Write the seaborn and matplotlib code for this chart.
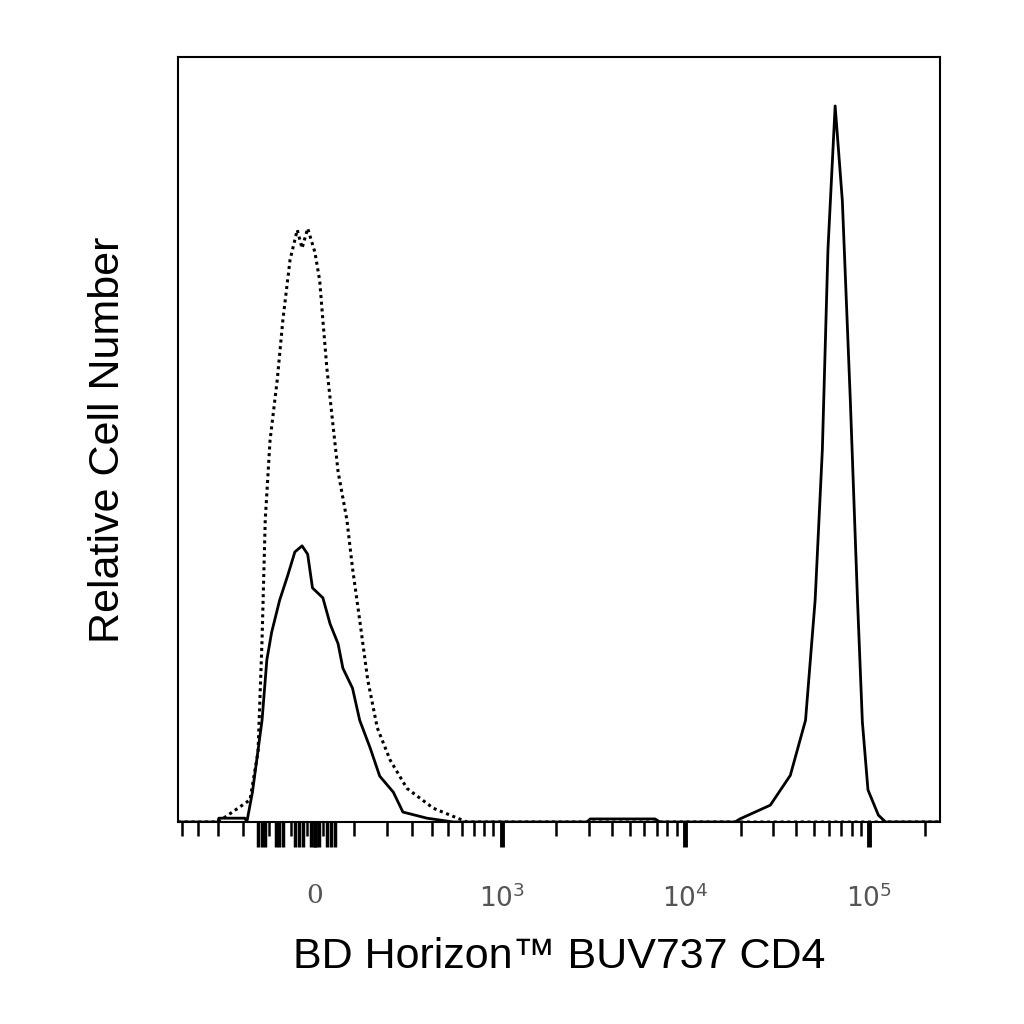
import numpy as np
import matplotlib
matplotlib.use("Agg")
import matplotlib.pyplot as plt
import seaborn as sns
import pandas as pd

sns.set_theme(style="white")
plt.rcParams['font.family'] = ['Liberation Sans', 'DejaVu Sans']

W = 196.0  # biexponential-like width (display channel = asinh(value/W))

# Display-channel positions and relative counts
dotted_u = [-1.71, -1.21, -0.81, -0.71, -0.66, -0.62, -0.56, -0.47, -0.40, -0.31, -0.22, -0.16, -0.09, 0.0,
            0.06, 0.10, 0.15, 0.22, 0.29, 0.40, 0.47, 0.56, 0.66, 0.78, 0.94, 1.15, 1.48, 1.90, 7.81]
dotted_y = [0, 0, 2.9, 9.2, 23.8, 39.5, 49.9, 57.8, 65.6, 73.5, 77.4, 75.0, 77.6, 74.5,
            70.8, 65.6, 59.3, 52.5, 45.8, 39.5, 33.2, 26.4, 18.6, 12.3, 8.1, 4.4, 1.8, 0, 0]
solid_u = [-1.71, -1.21, -1.20, -0.875, -0.85, -0.78, -0.66, -0.60, -0.54, -0.44, -0.34, -0.25, -0.16, -0.09,
           -0.03, 0.10, 0.19, 0.29, 0.35, 0.47, 0.56, 0.69, 0.81, 0.98, 1.10, 1.40, 1.73,
           3.40, 3.44, 4.25, 4.31, 5.25, 5.31, 5.69, 5.94, 6.13, 6.25, 6.34, 6.41, 6.50, 6.59, 6.69,
           6.78, 6.84, 6.91, 7.04, 7.13, 7.81]
solid_y = [0, 0, 0.5, 0.5, 0, 3.9, 13.3, 21.2, 24.8, 29.0, 32.2, 35.3, 36.1, 35.0,
           30.6, 29.3, 25.9, 23.3, 20.1, 17.5, 13.3, 9.7, 6.0, 3.9, 1.3, 0.5, 0,
           0, 0.4, 0.4, 0, 0, 0.4, 2.2, 6.1, 13.3, 29.0, 48.6, 74.8, 93.6, 81.2, 55.0,
           28.8, 13.1, 4.2, 0.9, 0, 0]

major_vals = [0, 1e3, 1e4, 1e5]
major_labels = ["0", "$10^3$", "$10^4$", "$10^5$"]
minor_vals = ([-500, -400, -300, -200] + [-120, -60, -20, 20]
              + list(range(100, 1000, 100))
              + list(range(2000, 10000, 1000)) + list(range(20000, 100000, 10000)) + [200000])
dense_vals = [-150, -140, -130, -100, -90, -80, -50, -40, -30, -10, 0, 10, 30, 40, 50]

def to_u(v):
    return np.arcsinh(np.asarray(v, dtype=float) / W)

fig = plt.figure(figsize=(10.24, 10.24), dpi=100)
ax = fig.add_axes([178/1024, 202/1024, 762/1024, 765/1024])

df_d = pd.DataFrame({"u": dotted_u, "y": dotted_y})
df_s = pd.DataFrame({"u": solid_u, "y": solid_y})
sns.lineplot(data=df_d, x="u", y="y", ax=ax, color="black", lw=2.2, linestyle=(0, (1, 1.2)), sort=False)
sns.lineplot(data=df_s, x="u", y="y", ax=ax, color="black", lw=2.0, sort=False)

ax.set_xlim(-1.71, 7.81)
ax.set_ylim(0, 100)
ax.set_yticks([])
ax.set_xticks(to_u(major_vals))
ax.set_xticklabels(major_labels, color="#555555", fontsize=19, family="DejaVu Serif")
ax.set_xticks(to_u(minor_vals), minor=True)
ax.tick_params(axis="x", which="major", direction="out", length=18, width=3.5, color="black", bottom=True, pad=26)
ax.tick_params(axis="x", which="minor", direction="out", length=10, width=1.8, color="black", bottom=True)

sec = ax.secondary_xaxis("bottom")
sec.set_xticks(to_u(dense_vals))
sec.set_xticklabels([])
sec.tick_params(axis="x", direction="out", length=18, width=2.5, color="black")
sec.spines["bottom"].set_visible(False)

for s in ax.spines.values():
    s.set_color("black")
    s.set_linewidth(1.5)
ax.set_xlabel("BD Horizon™ BUV737 CD4", fontsize=31, labelpad=18, color="black")
ax.set_ylabel("Relative Cell Number", fontsize=31, labelpad=36, color="black")
fig.savefig("out.png", dpi=100)
